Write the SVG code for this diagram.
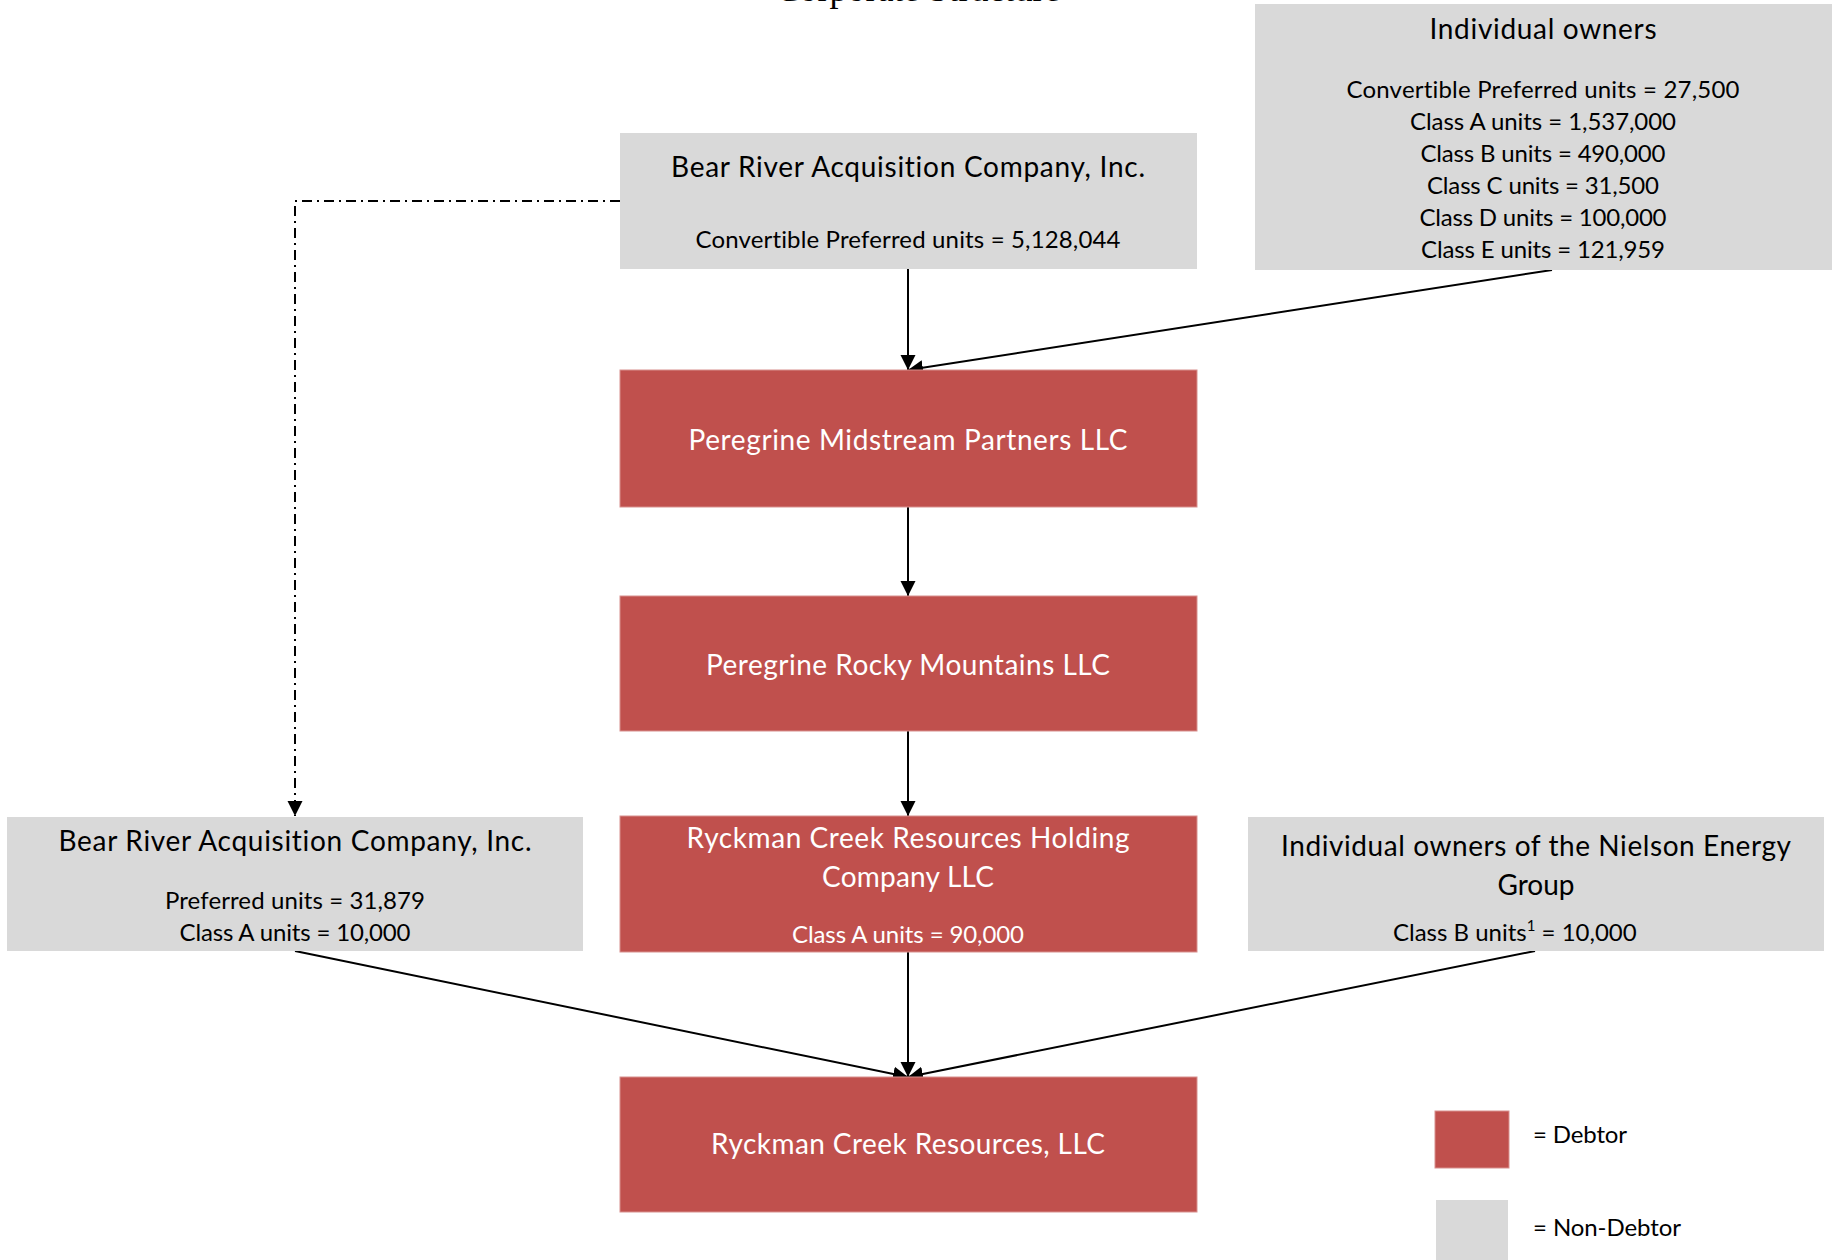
<svg xmlns="http://www.w3.org/2000/svg" width="1835" height="1260" viewBox="0 0 1835 1260">
<style>
.bg{fill:#ffffff}
.red{fill:#C0504D;stroke:#D8908E;stroke-width:1}
.gray{fill:#D9D9D9}
text{font-family:Lato,"Open Sans","Liberation Sans",sans-serif;text-anchor:middle;font-variant-ligatures:none;font-feature-settings:"liga" 0}
.t{font-size:28px}
.b{font-size:24px}
.k{fill:#000000}
.w{fill:#ffffff}
.line{stroke:#000000;stroke-width:2;fill:none}
.dash{stroke:#000000;stroke-width:2;fill:none;stroke-dasharray:10 5 2 5}
.title{font-family:"Liberation Serif","Times New Roman",serif;font-size:36px;fill:#000}
</style>
<defs>
<marker id="arr" markerUnits="userSpaceOnUse" markerWidth="16" markerHeight="16" viewBox="0 0 16 16" refX="15" refY="8" orient="auto">
<path d="M0,0.5 L15,8 L0,15.5 z" fill="#000000"/>
</marker>
</defs>
<rect class="bg" x="0" y="0" width="1835" height="1260"/>
<text class="title" x="918" y="1">Corporate Structure</text>

<g id="connectors">
<line class="line" x1="908" y1="269" x2="908" y2="370" marker-end="url(#arr)"/>
<line class="line" x1="1552" y1="270" x2="908" y2="370" marker-end="url(#arr)"/>
<line class="line" x1="908" y1="507" x2="908" y2="596" marker-end="url(#arr)"/>
<line class="line" x1="908" y1="731" x2="908" y2="816" marker-end="url(#arr)"/>
<line class="line" x1="908" y1="952" x2="908" y2="1077" marker-end="url(#arr)"/>
<line class="line" x1="295" y1="951" x2="908" y2="1077" marker-end="url(#arr)"/>
<line class="line" x1="1535" y1="951" x2="908" y2="1077" marker-end="url(#arr)"/>
<polyline class="dash" points="620,201 295,201 295,816" marker-end="url(#arr)"/>
</g>

<g id="bear-river-top">
<rect class="gray" x="620" y="133" width="577" height="136"/>
<text class="t k" x="908" y="177" textLength="474">Bear River Acquisition Company, Inc.</text>
<text class="b k" x="908" y="248" textLength="425">Convertible Preferred units = 5,128,044</text>
</g>

<g id="individual-owners">
<rect class="gray" x="1255" y="4" width="577" height="266"/>
<text class="t k" x="1543" y="39" textLength="227">Individual owners</text>
<text class="b k" x="1543" y="98" textLength="393">Convertible Preferred units = 27,500</text>
<text class="b k" x="1543" y="130" textLength="266">Class A units = 1,537,000</text>
<text class="b k" x="1543" y="162" textLength="245">Class B units = 490,000</text>
<text class="b k" x="1543" y="194" textLength="232">Class C units = 31,500</text>
<text class="b k" x="1543" y="226" textLength="247">Class D units = 100,000</text>
<text class="b k" x="1543" y="258" textLength="244">Class E units = 121,959</text>
</g>

<g id="peregrine-midstream">
<rect class="red" x="620" y="370" width="577" height="137"/>
<text class="t w" x="908" y="450" textLength="439">Peregrine Midstream Partners LLC</text>
</g>

<g id="peregrine-rocky">
<rect class="red" x="620" y="596" width="577" height="135"/>
<text class="t w" x="908" y="675" textLength="404">Peregrine Rocky Mountains LLC</text>
</g>

<g id="ryckman-holding">
<rect class="red" x="620" y="816" width="577" height="136"/>
<text class="t w" x="908" y="848" textLength="443">Ryckman Creek Resources Holding</text>
<text class="t w" x="908" y="887" textLength="172">Company LLC</text>
<text class="b w" x="908" y="943" textLength="232">Class A units = 90,000</text>
</g>

<g id="ryckman-creek">
<rect class="red" x="620" y="1077" width="577" height="135"/>
<text class="t w" x="908" y="1154" textLength="394">Ryckman Creek Resources, LLC</text>
</g>

<g id="bear-river-left">
<rect class="gray" x="7" y="817" width="576" height="134"/>
<text class="t k" x="295" y="851" textLength="473">Bear River Acquisition Company, Inc.</text>
<text class="b k" x="295" y="909" textLength="260">Preferred units = 31,879</text>
<text class="b k" x="295" y="941" textLength="231">Class A units = 10,000</text>
</g>

<g id="nielson">
<rect class="gray" x="1248" y="817" width="576" height="134"/>
<text class="t k" x="1536" y="856" textLength="510">Individual owners of the Nielson Energy</text>
<text class="t k" x="1536" y="895">Group</text>
<text class="b k" x="1393" y="941" style="text-anchor:start">Class B units<tspan font-size="15" dy="-10">1</tspan><tspan dy="10"> = 10,000</tspan></text>
</g>

<g id="legend">
<rect class="red" x="1435" y="1111" width="74" height="57"/>
<text class="b k" x="1533" y="1143" style="text-anchor:start" textLength="94">= Debtor</text>
<rect class="gray" x="1436" y="1200" width="72" height="60"/>
<text class="b k" x="1533" y="1236" style="text-anchor:start" textLength="148">= Non-Debtor</text>
</g>
</svg>
